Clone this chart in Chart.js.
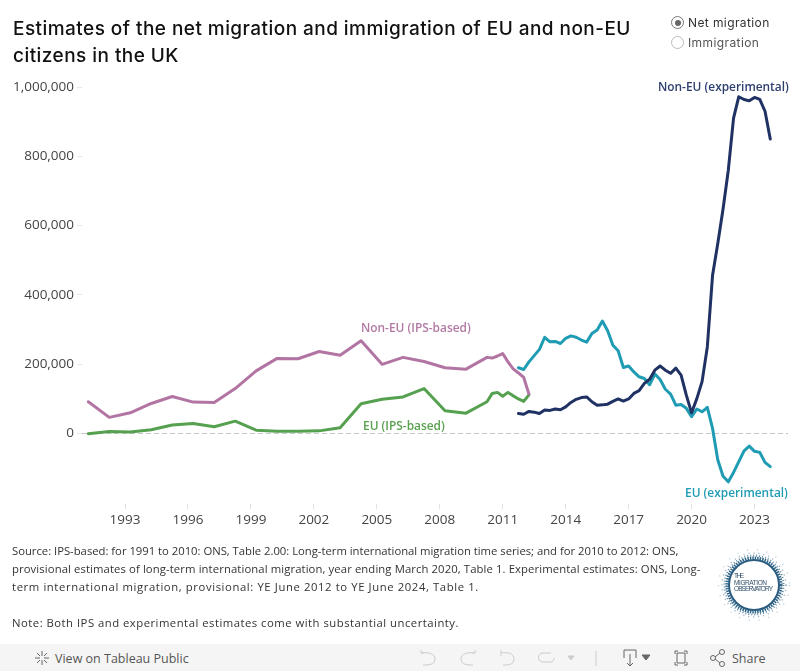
<!DOCTYPE html>
<html>
<head>
<meta charset="utf-8">
<title>Net migration and immigration of EU and non-EU citizens in the UK</title>
<script src="https://cdn.jsdelivr.net/npm/chart.js@4"></script>
<style>
html, body { margin: 0; padding: 0; background: #fff; }
#wrap { position: relative; width: 800px; height: 671px; overflow: hidden; font-family: "Open Sans", sans-serif; }
#grafica { position: absolute; left: 0; top: 0; }
#titulo { position: absolute; left: 13px; top: 15px; width: 640px; font: 500 19px/27px Inter, sans-serif; color: #111; letter-spacing: 0.45px; }
.radio { position: absolute; left: 671px; width: 11px; height: 11px; border: 1px solid #bbb; border-radius: 50%; background: #fff; }
.radio i { position: absolute; left: 2.5px; top: 2.5px; width: 6px; height: 6px; border-radius: 50%; background: #666; }
.radio-txt { position: absolute; left: 688px; font: 12px/16px Inter, sans-serif; letter-spacing: 0.4px; }
#fuente { position: absolute; left: 12px; top: 542px; width: 710px; font: 11.3px/18px "Open Sans", sans-serif; color: #333; white-space: nowrap; }
#fuente div { height: 18px; }
#barra { position: absolute; left: 0; top: 644px; width: 800px; height: 27px; background: #f5f5f5; color: #555; font: 12.5px/27px "Open Sans", sans-serif; }
#barra span { position: absolute; top: 1px; }
#barra svg { position: absolute; left: 0; top: 0; }
#logo { position: absolute; left: 714px; top: 545px; }
</style>
</head>
<body>
<div id="wrap">
  <canvas id="grafica" width="800" height="671"></canvas>
  <div id="titulo">Estimates of the net migration and immigration of EU and non-EU citizens in the UK</div>

  <div class="radio" style="top:16px;border-color:#777"><i></i></div>
  <div class="radio-txt" style="top:15px;color:#333">Net migration</div>
  <div class="radio" style="top:36px"></div>
  <div class="radio-txt" style="top:35px;color:#555">Immigration</div>

  <div id="fuente">
    <div style="letter-spacing:-0.02px">Source: IPS-based: for 1991 to 2010: ONS, Table 2.00: Long-term international migration time series; and for 2010 to 2012: ONS,</div>
    <div style="letter-spacing:0.1px">provisional estimates of long-term international migration, year ending March 2020, Table 1. Experimental estimates: ONS, Long-</div>
    <div style="letter-spacing:0.6px">term international migration, provisional: YE June 2012 to YE June 2024, Table 1.</div>
    <div></div>
    <div style="letter-spacing:0.49px">Note: Both IPS and experimental estimates come with substantial uncertainty.</div>
  </div>

  <svg id="logo" width="80" height="80" viewBox="0 0 80 80">
    <circle cx="40" cy="40" r="25" fill="none" stroke="#2b5c80" stroke-width="2"/>
    <circle cx="40" cy="40" r="27" fill="none" stroke="#2f6487" stroke-width="3" stroke-dasharray="1.5 1"/>
    <circle cx="40" cy="40" r="29.5" fill="none" stroke="#5f8aa6" stroke-width="2" stroke-dasharray="1 2"/>
    <circle cx="40" cy="40" r="32" fill="none" stroke="#93b0c4" stroke-width="1.5" stroke-dasharray="1 4"/>
    <circle cx="40" cy="40" r="35.5" fill="none" stroke="#bdd0dc" stroke-width="1.5" stroke-dasharray="1 9"/>
    <text x="20" y="33" font-family="Liberation Sans" font-size="6.5" fill="#2f4f6a" textLength="10">THE</text>
    <text x="20" y="39.5" font-family="Liberation Sans" font-size="6.5" fill="#2f4f6a" textLength="33">MIGRATION</text>
    <text x="20" y="46" font-family="Liberation Sans" font-size="6.5" fill="#2f4f6a" textLength="39">OBSERVATORY</text>
  </svg>

  <div id="barra">
    <svg width="800" height="27" fill="none" stroke="#888" stroke-width="1">
      <g stroke="#666"><path d="M42 7v5M42 16v5M35 14h5M44 14h5M37 9l3 3M44 16l3 3M47 9l-3 3M40 16l-3 3"/></g>
      <g stroke="#ccc">
        <path d="M421 9v-3M421 9h3M421 9c6-1 14 0 14 6s-7 6-12 6"/>
        <path d="M475 9v-3M475 9h-3M475 9c-6-1-14 0-14 6s7 6 12 6"/>
        <path d="M501 6v6M501 9c6-1 13 0 13 6s-6 6-11 6"/>
        <path d="M551 9h-8c-6 0-6 9 0 9h8c2 0 3-2 3-4"/>
        <path d="M568 12l3 4 3-4z" fill="#ccc"/>
        <path d="M596 7v15"/>
      </g>
      <g stroke="#666">
        <path d="M624 14v-8h12v8M630 10v12M627 19l3 3 3-3"/>
        <path d="M642 11l4 5 4-5z" fill="#666"/>
        <path d="M675 10v-3h3M684 7h3v3M687 18v3h-3M678 21h-3v-3M677 9h8v10h-8z"/>
        <circle cx="722" cy="8" r="2.5"/><circle cx="722" cy="20" r="2.5"/><circle cx="713" cy="14" r="2.5"/>
        <path d="M715 13l5-4M715 15l5 4"/>
      </g>
    </svg>
    <span style="left:55px">View on Tableau Public</span>
    <span style="left:732px">Share</span>
  </div>
</div>

<script>
// Periodos y etiquetas de los ejes
const ipsPeriods = [1991.25, 1992.25, 1993.25, 1994.25, 1995.25, 1996.25, 1997.25, 1998.25, 1999.25, 2000.25,
    2001.25, 2002.25, 2003.25, 2004.25, 2005.25, 2006.25, 2007.25, 2008.25, 2009.25,
    2010.25, 2010.5, 2010.75, 2011, 2011.25, 2011.5, 2011.75, 2012, 2012.25];
const expPeriods = [2011.75, 2012, 2012.25, 2012.5, 2012.75, 2013, 2013.25, 2013.5, 2013.75, 2014,
    2014.25, 2014.5, 2014.75, 2015, 2015.25, 2015.5, 2015.75, 2016, 2016.25, 2016.5,
    2016.75, 2017, 2017.25, 2017.5, 2017.75, 2018, 2018.25, 2018.5, 2018.75, 2019,
    2019.25, 2019.5, 2019.75, 2020, 2020.25, 2020.5, 2020.75, 2021, 2021.25, 2021.5,
    2021.75, 2022, 2022.25, 2022.5, 2022.75, 2023, 2023.25, 2023.5, 2023.75];
const xTicks = [1993, 1996, 1999, 2002, 2005, 2008, 2011, 2014, 2017, 2020, 2023];
const yTicks = [0, 200000, 400000, 600000, 800000, 1000000];

// Valores
const nonEuIps = [92000, 47000, 60000, 87000, 107000, 91000, 90000, 130000, 181000, 217000,
    216000, 237000, 226000, 268000, 200000, 220000, 208000, 190000, 186000,
    220000, 218000, 224000, 231000, 207000, 187000, 175000, 162000, 114000];
const euIps = [0, 6000, 5000, 11000, 25000, 29000, 20000, 36000, 10000, 7000,
    7000, 8000, 17000, 86000, 99000, 106000, 130000, 66000, 59000,
    92000, 116000, 119000, 108000, 119000, 109000, 100000, 93000, 112000];
const euExp = [190000, 185000, 207000, 225000, 243000, 278000, 265000, 266000, 260000, 275000,
    282000, 278000, 270000, 264000, 289000, 299000, 325000, 297000, 255000, 239000,
    191000, 195000, 178000, 164000, 159000, 141000, 172000, 156000, 128000, 114000,
    82000, 84000, 73000, 49000, 71000, 63000, 76000, 15000, -76000, -123000,
    -139000, -112000, -81000, -50000, -36000, -51000, -54000, -83000, -95000];
const nonEuExp = [58000, 56000, 64000, 62000, 58000, 68000, 67000, 71000, 69000, 77000,
    90000, 99000, 104000, 106000, 92000, 82000, 83000, 85000, 93000, 100000,
    94000, 100000, 116000, 124000, 145000, 157000, 183000, 195000, 183000, 174000,
    189000, 169000, 111000, 60000, 101000, 150000, 250000, 457000, 549000, 648000,
    760000, 910000, 972000, 964000, 960000, 970000, 964000, 930000, 850000];

// Etiquetas directas de cada serie
const seriesNotes = [
    { text: 'Non-EU (experimental)', color: '#2e3f6e', x: 658, y: 88 },
    { text: 'Non-EU (IPS-based)', color: '#b27aa4', x: 361, y: 329 },
    { text: 'EU (IPS-based)', color: '#59a14f', x: 363, y: 427 },
    { text: 'EU (experimental)', color: '#1f9bb3', x: 685, y: 494 }
];

function puntos(periods, values) {
    return periods.map((p, i) => ({ x: p, y: values[i] }));
}

function serie(label, periods, values, color, order) {
    return {
        label: label,
        data: puntos(periods, values),
        borderColor: color,
        borderWidth: 3,
        pointRadius: 0,
        tension: 0,
        order: order,
        borderJoinStyle: 'round',
        borderCapStyle: 'round'
    };
}

const notasPlugin = {
    id: 'notas',
    afterDatasetsDraw(chart) {
        const c = chart.ctx;
        c.save();
        c.font = '600 11.9px "Open Sans", sans-serif';
        c.textAlign = 'left';
        c.textBaseline = 'middle';
        seriesNotes.forEach(n => {
            c.fillStyle = n.color;
            c.fillText(n.text, n.x, n.y);
        });
        c.restore();
    }
};

new Chart(document.getElementById('grafica').getContext('2d'), {
    type: 'line',
    data: {
        datasets: [
            serie('Non-EU (IPS-based)', ipsPeriods, nonEuIps, '#b275a3', 2),
            serie('EU (IPS-based)', ipsPeriods, euIps, '#55a14f', 3),
            serie('EU (experimental)', expPeriods, euExp, '#1f9bb3', 1),
            serie('Non-EU (experimental)', expPeriods, nonEuExp, '#1f3263', 0)
        ]
    },
    plugins: [notasPlugin],
    options: {
        responsive: false,
        animation: false,
        layout: { padding: { top: 87, right: 12, left: 0, bottom: 0 } },
        plugins: { legend: { display: false }, tooltip: { enabled: false } },
        scales: {
            x: {
                type: 'linear',
                min: 1990.95,
                max: 2024.595,
                afterFit: s => { s.height = 167; },
                afterBuildTicks: s => { s.ticks = xTicks.map(v => ({ value: v })); },
                grid: { drawOnChartArea: false, tickLength: 5, tickColor: '#e2e2e2' },
                border: { display: false },
                ticks: {
                    maxRotation: 0,
                    padding: 3,
                    color: '#444',
                    font: { family: '"Open Sans", sans-serif', size: 13.5 },
                    callback: v => String(v)
                }
            },
            y: {
                min: -203000,
                max: 1000000,
                afterFit: s => { s.width = 82; },
                afterBuildTicks: s => { s.ticks = yTicks.map(v => ({ value: v })); },
                grid: {
                    tickLength: 5,
                    tickColor: '#e6e6e6',
                    color: ctx => ctx.tick && ctx.tick.value === 0 ? '#c8c8c8' : 'transparent'
                },
                border: { display: false, dash: [5, 3] },
                ticks: {
                    padding: 3,
                    color: '#444',
                    font: { family: '"Open Sans", sans-serif', size: 13.5 },
                    callback: v => v.toLocaleString('en-GB')
                }
            }
        }
    }
});
</script>
</body>
</html>
